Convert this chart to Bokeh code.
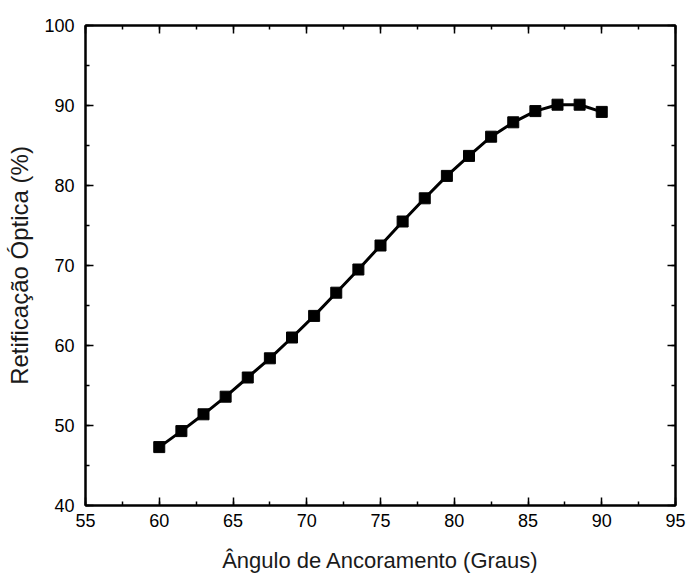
from bokeh.plotting import figure
from bokeh.models import Range1d, LinearAxis, SingleIntervalTicker
from bokeh.embed import file_html
from bokeh.resources import INLINE

# Anchoring angle (degrees) and optical rectification (%)
angles = [60, 61.5, 63, 64.5, 66, 67.5, 69, 70.5, 72, 73.5, 75,
          76.5, 78, 79.5, 81, 82.5, 84, 85.5, 87, 88.5, 90]
rectification = [47.3, 49.3, 51.4, 53.6, 56.0, 58.4, 61.0, 63.7, 66.6, 69.5, 72.5,
                 75.5, 78.4, 81.2, 83.7, 86.1, 87.9, 89.3, 90.1, 90.1, 89.2]

FONT = "Liberation Sans"

p = figure(width=687, height=576, output_backend="svg", toolbar_location=None,
           x_range=Range1d(55, 95), y_range=Range1d(40, 100),
           x_axis_label="Ângulo de Ancoramento (Graus)",
           y_axis_label="Retificação Óptica (%)",
           min_border_left=85, min_border_right=12,
           min_border_top=25, min_border_bottom=71)

p.background_fill_color = "white"
p.border_fill_color = "white"
p.grid.visible = False
p.outline_line_color = "black"
p.outline_line_width = 2

x_ticker = SingleIntervalTicker(interval=5, num_minor_ticks=2)
y_ticker = SingleIntervalTicker(interval=10, num_minor_ticks=2)
bottom_axis = p.below[0]
left_axis = p.left[0]
bottom_axis.ticker = x_ticker
left_axis.ticker = y_ticker

# mirrored axes on top and right, ticks only
top_axis = LinearAxis(ticker=x_ticker)
right_axis = LinearAxis(ticker=y_ticker)
p.add_layout(top_axis, "above")
p.add_layout(right_axis, "right")

for ax in (bottom_axis, left_axis, top_axis, right_axis):
    ax.axis_line_color = "black"
    ax.axis_line_width = 2
    ax.major_tick_line_width = 1.5
    ax.minor_tick_line_width = 1.5
    ax.major_tick_in = 8
    ax.major_tick_out = 0
    ax.minor_tick_in = 4
    ax.minor_tick_out = 0
    ax.major_label_text_font = FONT
    ax.major_label_text_font_size = "18px"
    ax.major_label_text_color = "black"
    ax.axis_label_text_font = FONT
    ax.axis_label_text_font_style = "normal"
    ax.axis_label_text_color = "#1a1a1a"

# the mirrored axes carry no labels
for ax in (top_axis, right_axis):
    ax.major_label_text_font_size = "1px"
    ax.major_label_text_color = None
    ax.major_label_standoff = 0

bottom_axis.axis_label_text_font_size = "22px"
left_axis.axis_label_text_font_size = "24px"
bottom_axis.major_label_standoff = 8
bottom_axis.axis_label_standoff = 18
left_axis.major_label_standoff = 11
left_axis.axis_label_standoff = 8

p.line(angles, rectification, line_color="black", line_width=3)
p.scatter(angles, rectification, marker="square", size=11,
          fill_color="black", line_color="black")

open("out.html", "w").write(file_html(p, INLINE))
